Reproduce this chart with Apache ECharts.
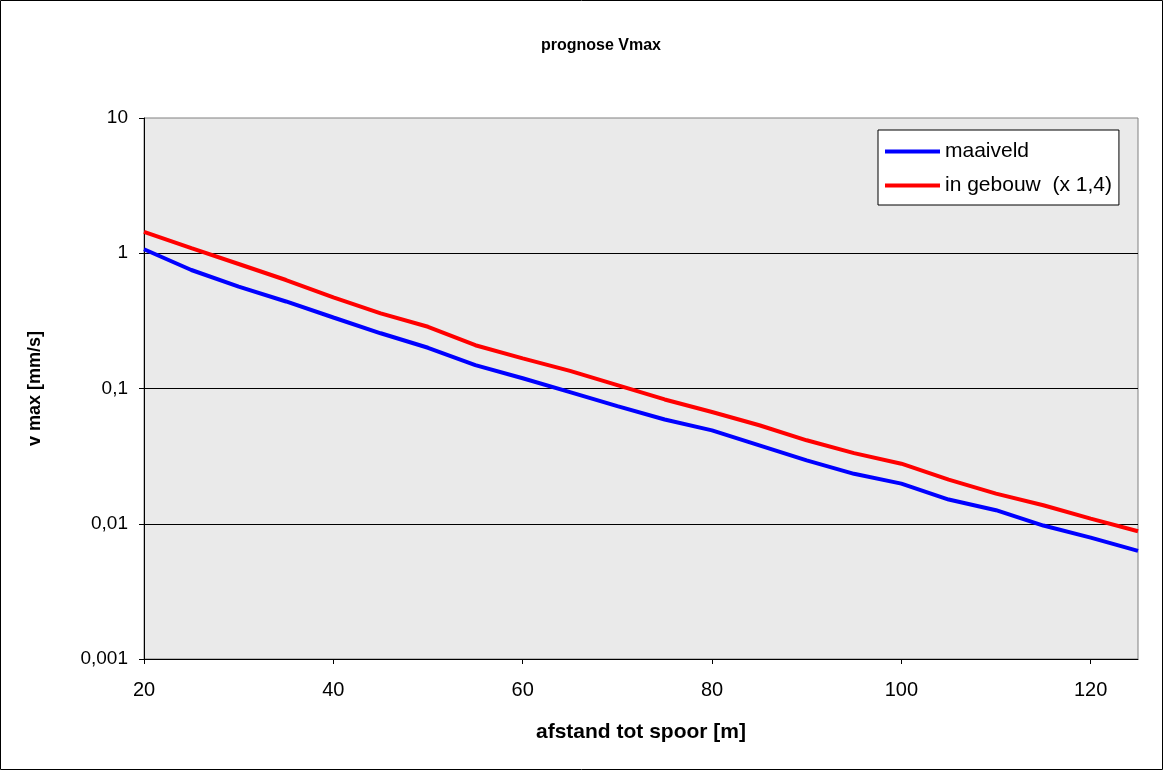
<!DOCTYPE html>
<html>
<head>
<meta charset="utf-8">
<script src="https://cdn.jsdelivr.net/npm/echarts@6/dist/echarts.min.js"></script>
<style>
html,body{margin:0;padding:0;background:#fff;}
#c{width:1164px;height:771px;}
</style>
</head>
<body>
<div id="c"></div>
<script>
const distances = [20,25,30,35,40,45,50,55,60,65,70,75,80,85,90,95,100,105,110,115,120,125];
const maaiveld = [1.07,0.752,0.566,0.44,0.335,0.256,0.2,0.149,0.119,0.094,0.074,0.059,0.049,0.038,0.0294,0.0234,0.0198,0.0151,0.0126,0.0097,0.0079,0.0063];
const inGebouw = [1.44,1.09,0.833,0.634,0.471,0.359,0.286,0.209,0.167,0.135,0.106,0.083,0.067,0.0535,0.0414,0.0333,0.0278,0.0212,0.0167,0.0137,0.0109,0.0088];
const seriesNames = ['maaiveld','in gebouw  (x 1,4)'];
const titleText = 'prognose Vmax';
const xName = 'afstand tot spoor [m]';
const yName = 'v max [mm/s]';

const FONT = "'Liberation Sans', Arial, sans-serif";
function fmtLog(v){
  const e = Math.round(Math.log10(v));
  if (e >= 0) return String(Math.pow(10, e));
  return '0,' + '0'.repeat(-e - 1) + '1';
}
const chart = echarts.init(document.getElementById('c'));
chart.setOption({
  animation:false,
  backgroundColor:'#fff',
  textStyle:{fontFamily:FONT},
  title:{text:titleText,left:596,textAlign:'center',top:33,
    textStyle:{fontFamily:FONT,fontSize:16,fontWeight:'bold',color:'#000'}},
  graphic:[{type:'rect',shape:{x:0.5,y:0.5,width:1162,height:769},style:{fill:'none',stroke:'#000',lineWidth:1},silent:true,z:100}],
  grid:{left:144,right:26,top:118,bottom:112,show:true,backgroundColor:'#eaeaea',borderColor:'#808080',borderWidth:1},
  legend:{orient:'vertical',left:878,top:130,data:seriesNames,icon:'rect',itemWidth:55,itemHeight:4,itemGap:13,
    backgroundColor:'#fff',borderColor:'#000',borderWidth:1,padding:[11,7,9,7],
    textStyle:{fontFamily:FONT,fontSize:21,color:'#000'}},
  xAxis:{type:'value',min:20,max:125,interval:20,name:xName,nameLocation:'middle',nameGap:63,
    nameTextStyle:{fontFamily:FONT,fontSize:21,fontWeight:'bold',color:'#000'},
    axisLine:{show:true,lineStyle:{color:'#000',width:1}},
    axisTick:{show:true,length:5,lineStyle:{color:'#000'}},
    axisLabel:{fontFamily:FONT,fontSize:20,color:'#000',margin:21,showMaxLabel:false},
    splitLine:{show:false}},
  yAxis:{type:'log',logBase:10,min:0.001,max:10,name:yName,nameLocation:'middle',nameGap:100,nameRotate:90,
    nameTextStyle:{fontFamily:FONT,fontSize:18,fontWeight:'bold',color:'#000'},
    axisLine:{show:true,lineStyle:{color:'#000',width:1}},
    axisTick:{show:true,length:5,lineStyle:{color:'#000'}},
    axisLabel:{fontFamily:FONT,fontSize:19,color:'#000',margin:16,formatter:fmtLog},
    splitLine:{show:true,showMinLine:false,showMaxLine:false,lineStyle:{color:'#000',width:1}},
    minorTick:{show:false}},
  series:[
    {name:seriesNames[0],type:'line',data:distances.map((d,i)=>[d,maaiveld[i]]),showSymbol:false,
      lineStyle:{color:'#0000ff',width:4},itemStyle:{color:'#0000ff'}},
    {name:seriesNames[1],type:'line',data:distances.map((d,i)=>[d,inGebouw[i]]),showSymbol:false,
      lineStyle:{color:'#ff0000',width:4},itemStyle:{color:'#ff0000'}}
  ]
});
</script>
</body>
</html>
